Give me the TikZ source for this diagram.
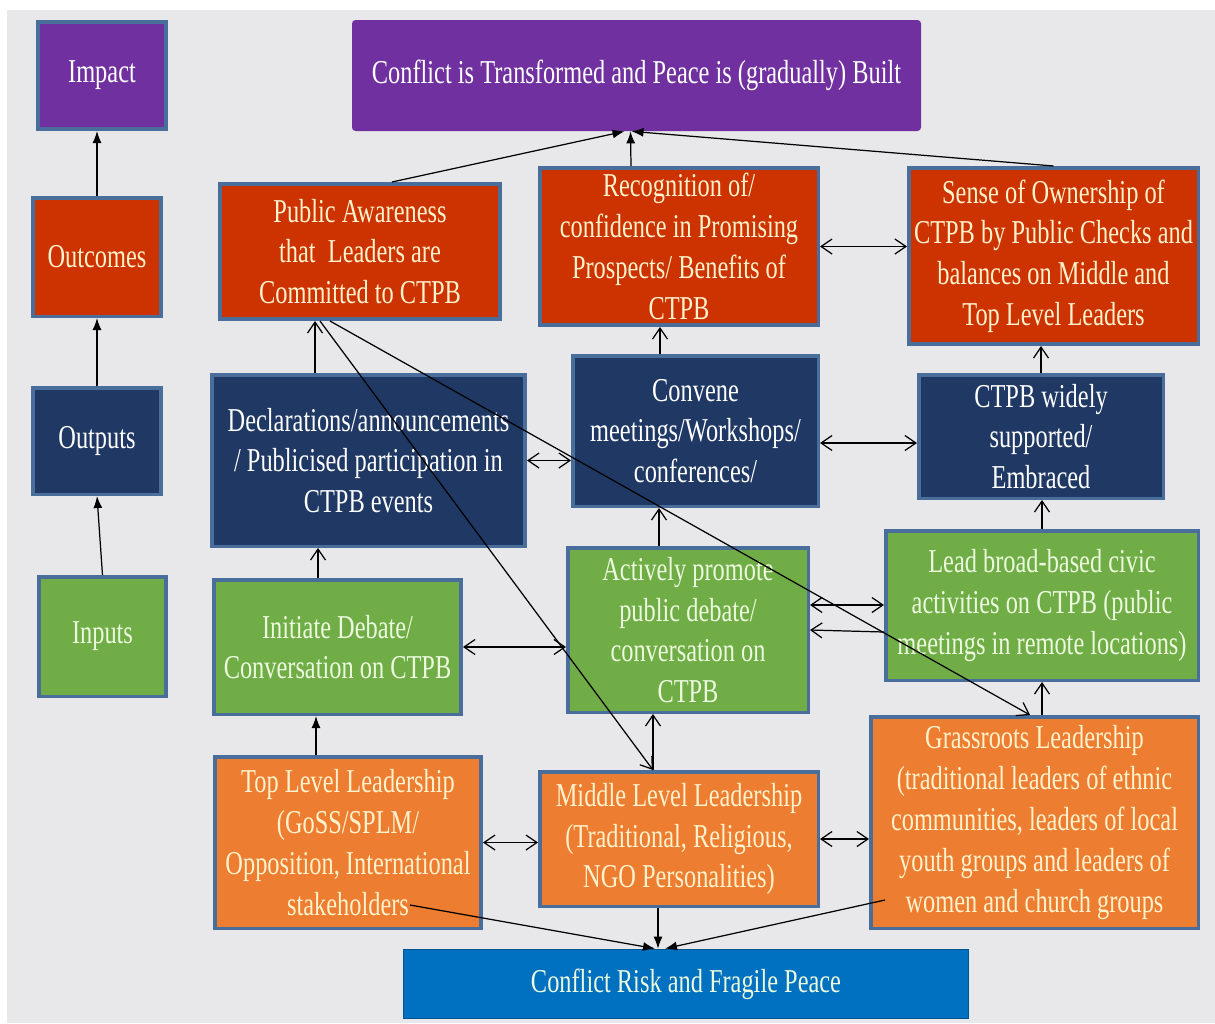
\documentclass[tikz,border=0pt]{standalone}
\usepackage{fontspec}
\setmainfont{Liberation Serif}[FakeStretch=0.73]
\usepackage{tikz}
\usetikzlibrary{arrows.meta, positioning, calc}

\definecolor{impactpurple}{RGB}{112,48,160}
\definecolor{outcomered}{RGB}{204,51,0}
\definecolor{outputnavy}{RGB}{31,56,100}
\definecolor{inputgreen}{RGB}{112,173,71}
\definecolor{leaderorange}{RGB}{237,125,49}
\definecolor{riskblue}{RGB}{0,112,192}
\definecolor{edgeblue}{RGB}{74,110,156}
\definecolor{canvas}{RGB}{232,231,233}
\definecolor{cream}{RGB}{255,242,204}
\definecolor{palegreen}{RGB}{236,250,222}

\begin{document}
\begin{tikzpicture}[
  font=\fontsize{19}{23.2}\selectfont,
  box/.style={rectangle, draw=edgeblue, line width=2pt, inner sep=0pt, align=center, text centered},
  impactbox/.style={box, fill=impactpurple, text=white},
  outcomebox/.style={box, fill=outcomered, text=cream},
  outputbox/.style={box, fill=outputnavy, text=white},
  inputbox/.style={box, fill=inputgreen, text=palegreen},
  leaderbox/.style={box, fill=leaderorange, text=cream},
  arrow/.style={line width=0.7pt, -{Straight Barb[length=2.2mm, width=3mm]}},
  twoway/.style={line width=0.7pt, {Straight Barb[length=2.2mm, width=3mm]}-{Straight Barb[length=2.2mm, width=3mm]}},
  solidarrow/.style={line width=0.7pt, -{Latex[length=2.4mm, width=1.8mm]}}
]
\useasboundingbox (0,0) rectangle (24.3,-20.46);
\fill [canvas] (0.14,-0.2) rectangle (24.3,-20.46);

% left column
\node (impact) [impactbox, minimum width=2.57cm, minimum height=2.15cm] at (2.04,-1.51) {Impact};
\node (outcomes) [outcomebox, minimum width=2.57cm, minimum height=2.37cm, below=1.3cm of impact, xshift=-0.1cm] {Outcomes};
\node (outputs) [outputbox, minimum width=2.57cm, minimum height=2.13cm, below=1.36cm of outcomes] {Outputs};
\node (inputs) [inputbox, minimum width=2.55cm, minimum height=2.39cm, below=1.58cm of outputs, xshift=0.11cm] {Inputs};

% impact and outcomes
\node (transformed) [rectangle, rounded corners=2pt, fill=impactpurple, text=white, minimum width=11.38cm, minimum height=2.22cm] at (12.73,-1.51) {Conflict is Transformed and Peace is (gradually) Built};
\node (awareness) [outcomebox, minimum width=5.61cm, minimum height=2.71cm] at (7.20,-5.03) {Public Awareness\\that~ Leaders are\\Committed to CTPB};
\node (recognition) [outcomebox, minimum width=5.57cm, minimum height=3.15cm] at (13.58,-4.93) {Recognition of/\\confidence in Promising\\Prospects/ Benefits of\\CTPB};
\node (ownership) [outcomebox, minimum width=5.79cm, minimum height=3.53cm] at (21.07,-5.12) {Sense of Ownership of\\CTPB by Public Checks and\\balances on Middle and\\Top Level Leaders};

% outputs
\node (declarations) [outputbox, minimum width=6.27cm, minimum height=3.43cm] at (7.37,-9.21) {Declarations/announcements\\/ Publicised participation in\\CTPB events};
\node (convene) [outputbox, minimum width=4.91cm, minimum height=3.01cm] at (13.91,-8.62) {Convene\\meetings/Workshops/\\conferences/};
\node (widely) [outputbox, minimum width=4.89cm, minimum height=2.47cm] at (20.82,-8.73) {CTPB widely\\supported/\\Embraced};

% inputs
\node (initiate) [inputbox, minimum width=4.95cm, minimum height=2.69cm] at (6.75,-12.94) {Initiate Debate/\\Conversation on CTPB};
\node (actively) [inputbox, minimum width=4.81cm, minimum height=3.29cm] at (13.76,-12.60) {Actively promote\\public debate/\\conversation on\\CTPB};
\node (lead) [inputbox, minimum width=6.25cm, minimum height=2.99cm] at (20.84,-12.11) {Lead broad-based civic\\activities on CTPB (public\\meetings in remote locations)};

% leadership levels
\node (toplevel) [leaderbox, minimum width=5.33cm, minimum height=3.43cm] at (6.96,-16.85) {Top Level Leadership\\(GoSS/SPLM/\\Opposition, International\\stakeholders};
\node (middle) [leaderbox, minimum width=5.57cm, minimum height=2.69cm] at (13.58,-16.78) {Middle Level Leadership\\(Traditional, Religious,\\NGO Personalities)};
\node (grassroots) [leaderbox, minimum width=6.55cm, minimum height=4.23cm] at (20.69,-16.45) {Grassroots Leadership\\(traditional leaders of ethnic\\communities, leaders of local\\youth groups and leaders of\\women and church groups};
\node (risk) [rectangle, fill=riskblue, draw=riskblue!75!black, line width=1pt, text=palegreen, minimum width=11.3cm, minimum height=1.38cm] at (13.72,-19.68) {Conflict Risk and Fragile Peace};

% connectors
\draw [solidarrow] (outcomes.north) -- (outcomes.north |- impact.south);
\draw [solidarrow] (outputs.north) -- (outcomes.south);
\draw [solidarrow] (inputs.north) -- (outputs.south);
\draw [solidarrow] ([xshift=0.64cm]awareness.north) -- ([xshift=-0.24cm]transformed.south);
\draw [solidarrow] ([xshift=-0.96cm]recognition.north) -- ([xshift=-0.12cm]transformed.south);
\draw [solidarrow] (ownership.north) -- ([xshift=-0.1cm]transformed.south);
\draw [twoway] (recognition.east) -- (recognition.east -| ownership.west);
\draw [arrow] ([xshift=-1.07cm]declarations.north) -- ([xshift=-1.07cm]declarations.north |- awareness.south);
\draw [arrow] ([xshift=-0.71cm]convene.north) -- ([xshift=-0.71cm]convene.north |- recognition.south);
\draw [arrow] (widely.north) -- (widely.north |- ownership.south);
\draw [twoway] (declarations.east) -- (declarations.east -| convene.west);
\draw [twoway] ([yshift=-0.24cm]convene.east) -- ([yshift=-0.24cm]convene.east -| widely.west);
\draw [arrow] ([xshift=-0.39cm]initiate.north) -- ([xshift=-0.39cm]initiate.north |- declarations.south);
\draw [arrow] ([xshift=-0.58cm]actively.north) -- ([xshift=-0.58cm]actively.north |- convene.south);
\draw [arrow] (lead.north) -- (lead.north |- widely.south);
\draw [twoway] (initiate.east) -- (initiate.east -| actively.west);
\draw [twoway] ([yshift=0.5cm]actively.east) -- ([yshift=0.5cm]actively.east -| lead.west);
\draw [arrow] ([yshift=-0.53cm]lead.west) -- (actively.east);
\draw [solidarrow] ([xshift=-0.64cm]toplevel.north) -- ([xshift=-0.64cm]toplevel.north |- initiate.south);
\draw [arrow] ([xshift=-0.52cm]middle.north) -- ([xshift=-0.52cm]middle.north |- actively.south);
\draw [twoway] (toplevel.east) -- (toplevel.east -| middle.west);
\draw [twoway] (middle.east) -- (middle.east -| grassroots.west);
\draw [arrow] (lead.south |- grassroots.north) -- (lead.south);
\draw [arrow] ([xshift=-0.8cm]awareness.south) -- ([xshift=-0.52cm]middle.north);
\draw [arrow] ([xshift=-0.6cm]awareness.south) -- ([xshift=-0.09cm]grassroots.north);
\draw [solidarrow] ($(toplevel.south)+(1.24,0.5)$) -- ([xshift=-0.62cm]risk.north);
\draw [solidarrow] ([xshift=-0.42cm]middle.south) -- ([xshift=-0.42cm]middle.south |- risk.north);
\draw [solidarrow] ($(grassroots.south)+(-2.99,0.6)$) -- ([xshift=-0.42cm]risk.north);
\end{tikzpicture}
\end{document}
